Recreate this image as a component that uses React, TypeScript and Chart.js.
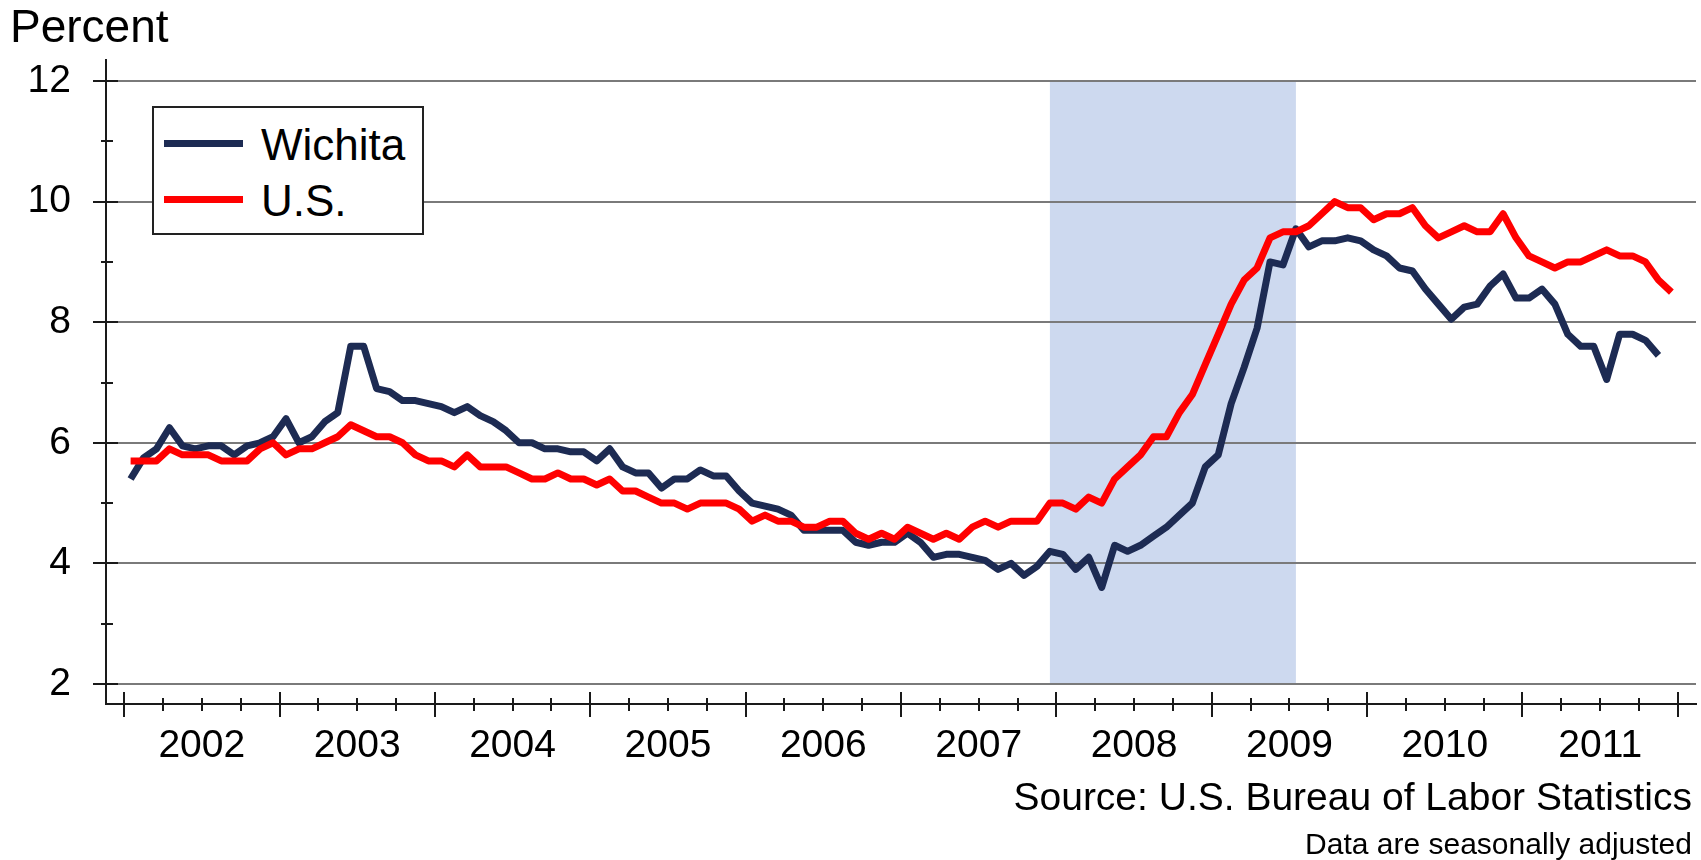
import React, { useEffect, useRef } from 'react';
import { Chart, registerables } from 'chart.js';

Chart.register(...registerables);

const FONT = "'Liberation Sans', Arial, Helvetica, sans-serif";

// Categories: monthly, index 0 = Jan 2002
const yearLabels = ['2002', '2003', '2004', '2005', '2006', '2007', '2008', '2009', '2010', '2011'];
const yTickValues = [2, 3, 4, 5, 6, 7, 8, 9, 10, 11, 12];
const seriesNames = ['Wichita', 'U.S.'];
const seriesColors = ['#1d2b53', '#ff0000'];

// Recession shading (month indexes): Dec 2007 .. Jul 2009
const recessionStart = 71;
const recessionEnd = 90;

// Wichita unemployment rate, Jan 2002 .. Nov 2011
const wichita = [
  5.4, 5.75, 5.9, 6.25, 5.95, 5.9, 5.95, 5.95, 5.8, 5.95, 6.0, 6.1,
  6.4, 6.0, 6.1, 6.35, 6.5, 7.6, 7.6, 6.9, 6.85, 6.7, 6.7, 6.65,
  6.6, 6.5, 6.6, 6.45, 6.35, 6.2, 6.0, 6.0, 5.9, 5.9, 5.85, 5.85,
  5.7, 5.9, 5.6, 5.5, 5.5, 5.25, 5.4, 5.4, 5.55, 5.45, 5.45, 5.2,
  5.0, 4.95, 4.9, 4.8, 4.55, 4.55, 4.55, 4.55, 4.35, 4.3, 4.35, 4.35,
  4.5, 4.35, 4.1, 4.15, 4.15, 4.1, 4.05, 3.9, 4.0, 3.8, 3.95, 4.2,
  4.15, 3.9, 4.1, 3.6, 4.3, 4.2, 4.3, 4.45, 4.6, 4.8, 5.0, 5.6,
  5.8, 6.65, 7.25, 7.9, 9.0, 8.95, 9.55, 9.25, 9.35, 9.35, 9.4, 9.35,
  9.2, 9.1, 8.9, 8.85, 8.55, 8.3, 8.05, 8.25, 8.3, 8.6, 8.8, 8.4,
  8.4, 8.55, 8.3, 7.8, 7.6, 7.6, 7.05, 7.8, 7.8, 7.7, 7.45,
];

// U.S. unemployment rate, Jan 2002 .. Dec 2011
const us = [
  5.7, 5.7, 5.7, 5.9, 5.8, 5.8, 5.8, 5.7, 5.7, 5.7, 5.9, 6.0,
  5.8, 5.9, 5.9, 6.0, 6.1, 6.3, 6.2, 6.1, 6.1, 6.0, 5.8, 5.7,
  5.7, 5.6, 5.8, 5.6, 5.6, 5.6, 5.5, 5.4, 5.4, 5.5, 5.4, 5.4,
  5.3, 5.4, 5.2, 5.2, 5.1, 5.0, 5.0, 4.9, 5.0, 5.0, 5.0, 4.9,
  4.7, 4.8, 4.7, 4.7, 4.6, 4.6, 4.7, 4.7, 4.5, 4.4, 4.5, 4.4,
  4.6, 4.5, 4.4, 4.5, 4.4, 4.6, 4.7, 4.6, 4.7, 4.7, 4.7, 5.0,
  5.0, 4.9, 5.1, 5.0, 5.4, 5.6, 5.8, 6.1, 6.1, 6.5, 6.8, 7.3,
  7.8, 8.3, 8.7, 8.9, 9.4, 9.5, 9.5, 9.6, 9.8, 10.0, 9.9, 9.9,
  9.7, 9.8, 9.8, 9.9, 9.6, 9.4, 9.5, 9.6, 9.5, 9.5, 9.8, 9.4,
  9.1, 9.0, 8.9, 9.0, 9.0, 9.1, 9.2, 9.1, 9.1, 9.0, 8.7, 8.5,
];

const AXIS_COLOR = '#1a1a1a';
const GRID_COLOR = '#7a7a7a';

export default function App() {
  const canvasRef = useRef<HTMLCanvasElement | null>(null);

  useEffect(() => {
    const canvas = canvasRef.current;
    if (!canvas) return;

    const recessionPlugin = {
      id: 'recessionBand',
      beforeDraw(chart: any) {
        const { ctx, scales } = chart;
        const xs = scales.x;
        const ys = scales.y;
        const x1 = xs.getPixelForValue(recessionStart);
        const x2 = xs.getPixelForValue(recessionEnd);
        const y1 = ys.getPixelForValue(12);
        const y2 = ys.getPixelForValue(2);
        ctx.save();
        ctx.fillStyle = '#cdd9ef';
        ctx.fillRect(x1, y1, x2 - x1, y2 - y1);
        ctx.restore();
      },
    };

    const crossTicksPlugin = {
      id: 'crossTicks',
      afterDraw(chart: any) {
        const { ctx, scales, chartArea } = chart;
        const xs = scales.x;
        const ys = scales.y;
        ctx.save();
        ctx.strokeStyle = AXIS_COLOR;
        ctx.lineWidth = 2;
        ctx.beginPath();
        const by = chartArea.bottom;
        const nQuarters = (yearLabels.length * 12) / 3;
        for (let k = 0; k <= nQuarters; k++) {
          const px = Math.round(xs.getPixelForValue(-0.5 + 3 * k));
          const major = k % 4 === 0;
          ctx.moveTo(px, by - (major ? 12 : 6));
          ctx.lineTo(px, by + (major ? 13 : 7));
        }
        const lx = chartArea.left;
        for (const v of yTickValues) {
          const py = Math.round(ys.getPixelForValue(v));
          const major = v % 2 === 0;
          ctx.moveTo(lx - (major ? 13 : 5), py);
          ctx.lineTo(lx + (major ? 12 : 7), py);
        }
        ctx.stroke();
        ctx.restore();
      },
    };

    const chart = new Chart(canvas, {
      type: 'line',
      data: {
        datasets: [
          {
            label: seriesNames[0],
            data: wichita.map((v, i) => ({ x: i, y: v })),
            borderColor: seriesColors[0],
            backgroundColor: seriesColors[0],
            borderWidth: 7,
            pointRadius: 0,
            tension: 0,
            fill: false,
            borderJoinStyle: 'round',
            order: 1,
          },
          {
            label: seriesNames[1],
            data: us.map((v, i) => ({ x: i, y: v })),
            borderColor: seriesColors[1],
            backgroundColor: seriesColors[1],
            borderWidth: 7,
            pointRadius: 0,
            tension: 0,
            fill: false,
            borderJoinStyle: 'round',
            order: 0,
          },
        ],
      },
      options: {
        animation: false,
        responsive: false,
        devicePixelRatio: 1,
        layout: { padding: { top: 60, right: 5, left: 0, bottom: 0 } },
        plugins: {
          legend: { display: false },
          tooltip: { enabled: false },
        },
        scales: {
          x: {
            type: 'linear',
            min: -1.9,
            max: 120.9,
            afterBuildTicks: (s: any) => {
              s.ticks = yearLabels.map((_, k) => ({ value: 5.5 + 12 * k }));
            },
            afterFit: (s: any) => {
              s.height = 156;
            },
            grid: { display: false, drawTicks: false },
            border: { display: true, color: AXIS_COLOR, width: 2 },
            ticks: {
              autoSkip: false,
              maxRotation: 0,
              minRotation: 0,
              padding: 19,
              color: '#000',
              font: { family: FONT, size: 39 },
              callback: (_v: any, i: number) => yearLabels[i],
            },
          },
          y: {
            type: 'linear',
            min: 1.667,
            max: 12.35,
            afterBuildTicks: (s: any) => {
              s.ticks = yTickValues.map((v) => ({ value: v }));
            },
            afterFit: (s: any) => {
              s.width = 106;
            },
            grid: {
              drawTicks: false,
              lineWidth: 2,
              color: (c: any) =>
                c.tick && c.tick.value % 2 === 0 ? GRID_COLOR : 'rgba(0,0,0,0)',
            },
            border: { display: true, color: AXIS_COLOR, width: 2 },
            ticks: {
              padding: 35,
              color: '#000',
              font: { family: FONT, size: 39 },
              callback: (v: any) => (Number(v) % 2 === 0 ? String(v) : ''),
            },
          },
        },
      },
      plugins: [recessionPlugin, crossTicksPlugin],
    } as any);

    return () => {
      chart.destroy();
    };
  }, []);

  const text = (extra: React.CSSProperties): React.CSSProperties => ({
    position: 'absolute',
    fontFamily: FONT,
    color: '#000',
    whiteSpace: 'nowrap',
    ...extra,
  });

  return (
    <div
      style={{
        position: 'fixed',
        left: 0,
        top: 0,
        width: 1701,
        height: 860,
        background: '#fff',
        overflow: 'hidden',
      }}
    >
      <canvas ref={canvasRef} width={1701} height={860} style={{ display: 'block' }} />
      <div style={text({ left: 10, top: 3, fontSize: 46, lineHeight: '46px' })}>Percent</div>

      {/* Legend */}
      <div
        style={{
          position: 'absolute',
          left: 152,
          top: 106,
          width: 272,
          height: 129,
          boxSizing: 'border-box',
          border: '2px solid #222',
          background: '#fff',
        }}
      />
      <div style={{ position: 'absolute', left: 164, top: 139.5, width: 79, height: 7, background: seriesColors[0] }} />
      <div style={{ position: 'absolute', left: 164, top: 195.5, width: 79, height: 7, background: seriesColors[1] }} />
      <div style={text({ left: 261, top: 123, fontSize: 44, lineHeight: '44px' })}>{seriesNames[0]}</div>
      <div style={text({ left: 261, top: 179, fontSize: 44, lineHeight: '44px' })}>{seriesNames[1]}</div>

      <div style={text({ right: 9, top: 777, fontSize: 39, lineHeight: '39px' })}>
        Source: U.S. Bureau of Labor Statistics
      </div>
      <div style={text({ right: 9, top: 829, fontSize: 30, lineHeight: '30px' })}>
        Data are seasonally adjusted
      </div>
    </div>
  );
}
